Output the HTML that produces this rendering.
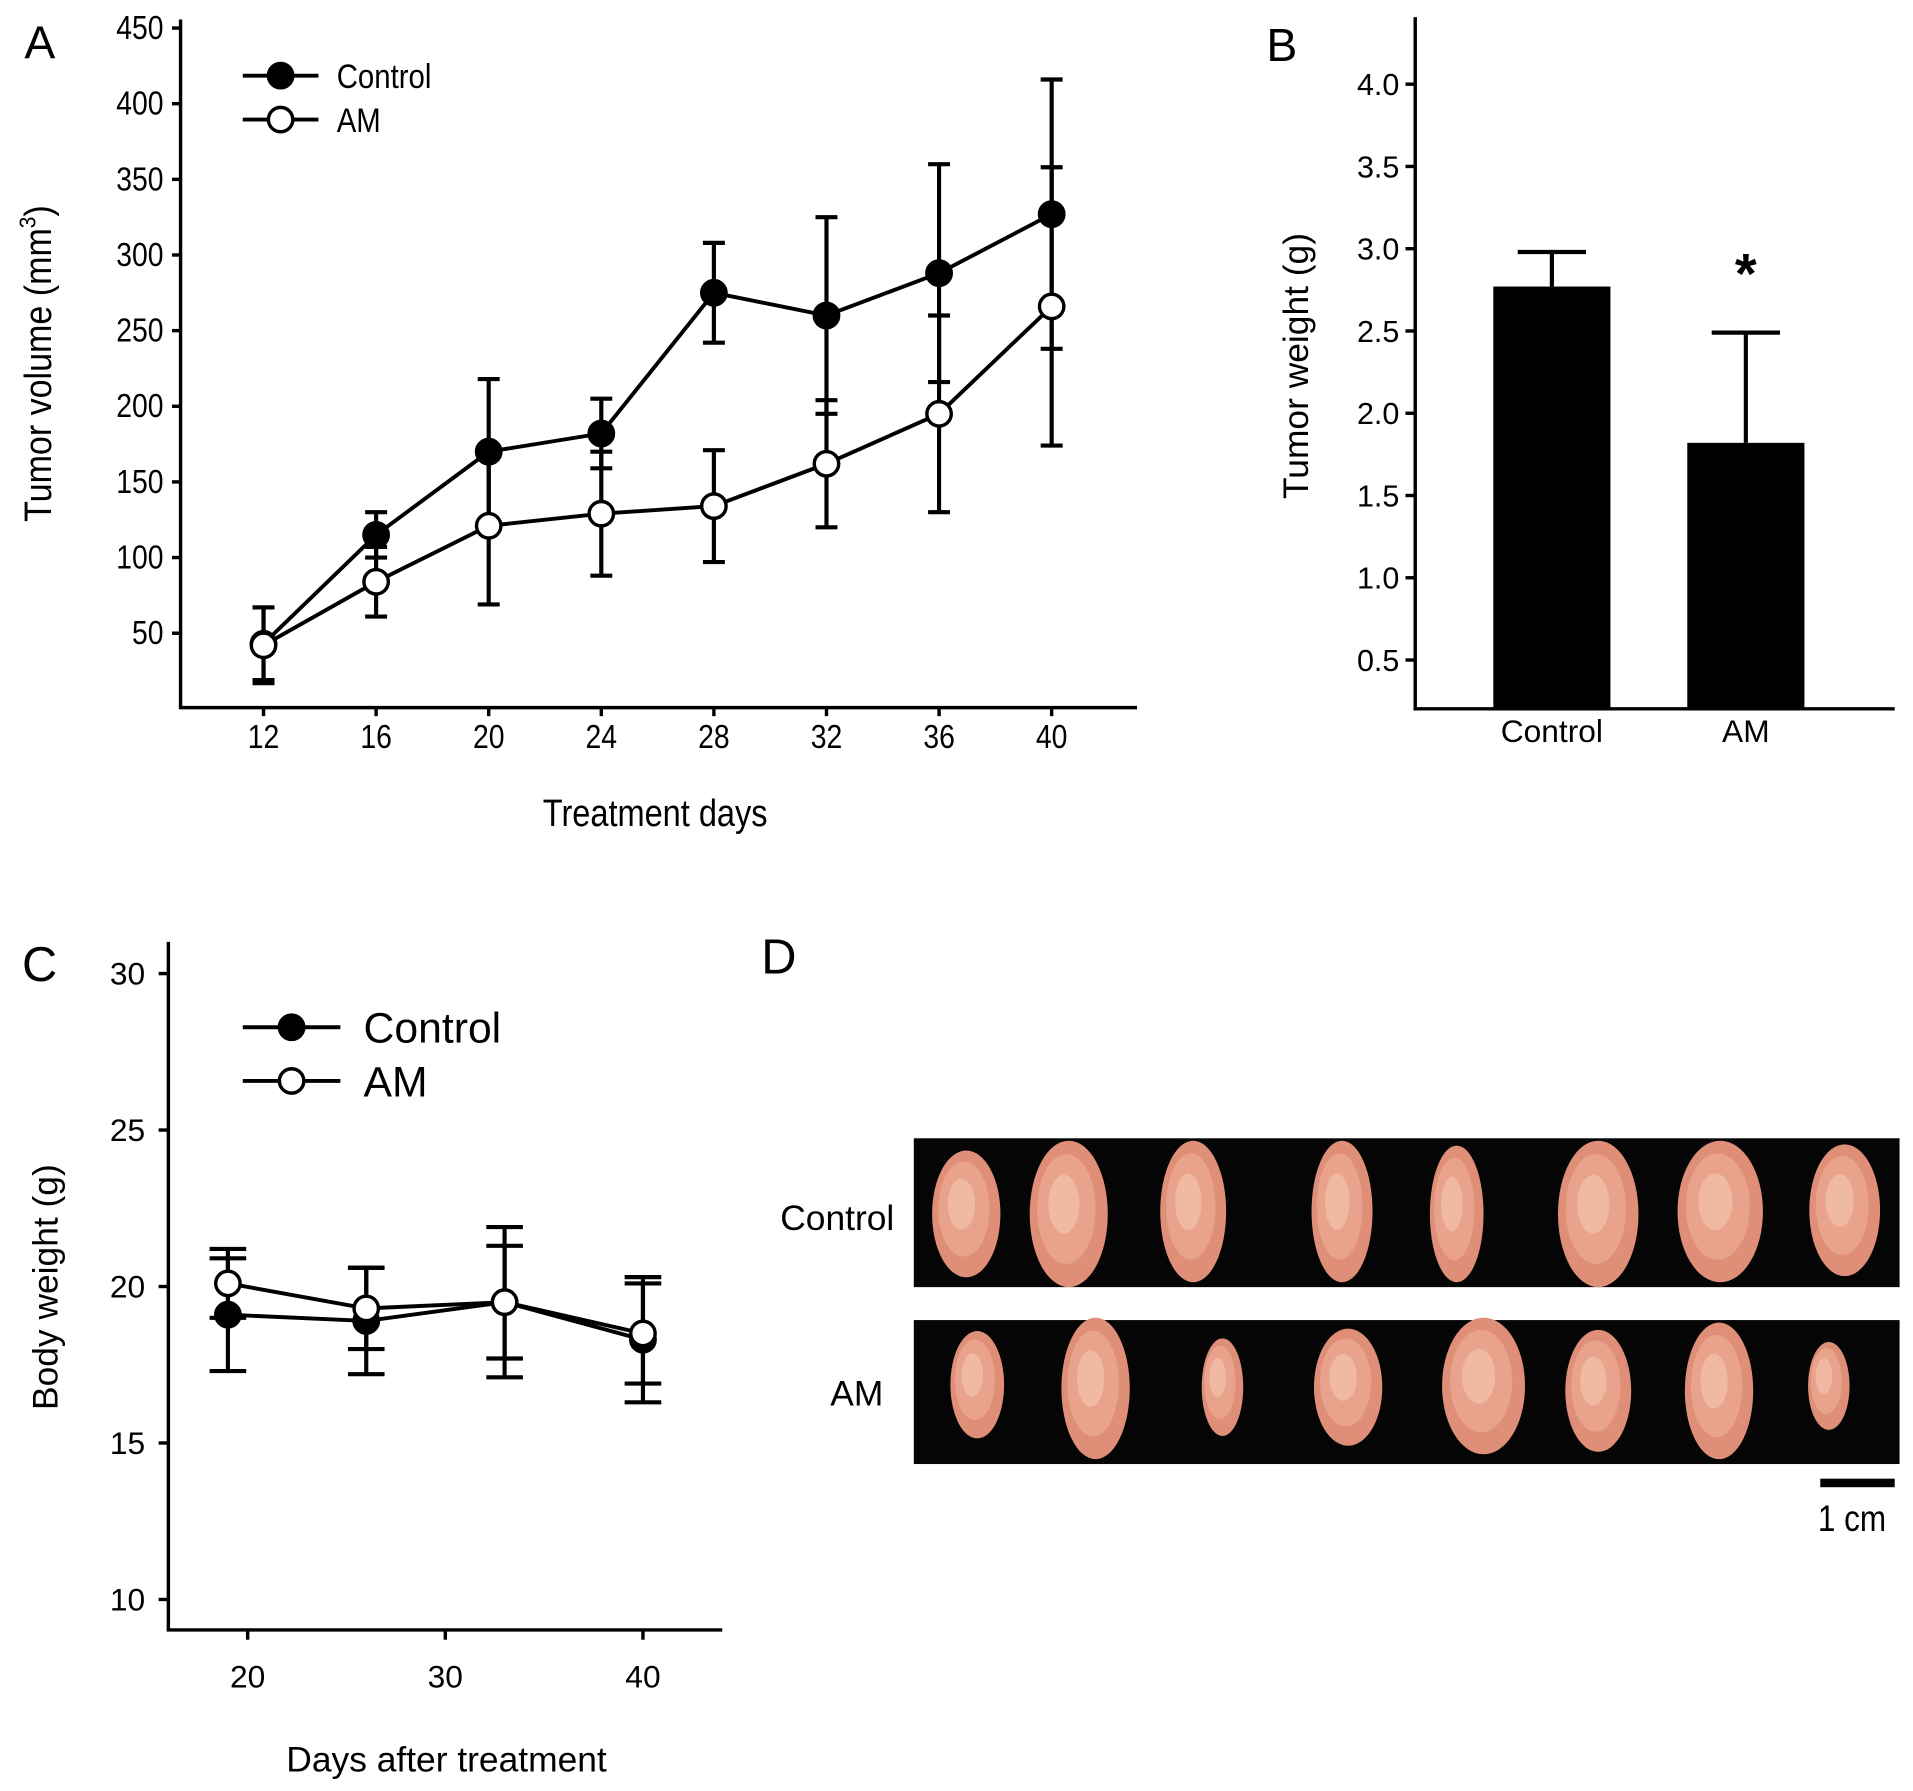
<!DOCTYPE html>
<html><head><meta charset="utf-8">
<style>
html,body{margin:0;padding:0;background:#fff;}
svg{display:block;}
text{font-family:"Liberation Sans",sans-serif;fill:#000;}
</style></head>
<body>
<svg id="fig" width="1913" height="1791" viewBox="0 0 1568 1468" preserveAspectRatio="none">
<rect width="1568" height="1468" fill="#fff"/>
<g id="pA"></g>
<g id="pB"></g>
<g id="pC"></g>
<g id="pD"></g>
</svg>
<script>
// Panel A data
const daysA = [12,16,20,24,28,32,36,40];
const ctrlA = [43,115,170,182,275,260,288,327];
const ctrlAsd = [24,15,48,23,33,65,72,89];
const amA = [42,84,121,129,134,162,195,266];
const amAsd = [25,23,52,41,37,42,65,92];
const ticksAy = [50,100,150,200,250,300,350,400,450];
// Panel B data
const groupsB = ["Control","AM"];
const meansB = [2.77,1.82];
const sdB = [0.21,0.67];
const ticksBy = [0.5,1.0,1.5,2.0,2.5,3.0,3.5,4.0];
// Panel C data
const daysC = [19,26,33,40];
const ctrlC = [19.1,18.9,19.5,18.3];
const ctrlCsd = [1.8,1.7,1.8,2.0];
const amC = [20.1,19.3,19.5,18.5];
const amCsd = [1.1,1.3,2.4,1.6];
const ticksCy = [10,15,20,25,30];
const ticksCx = [20,30,40];

const NS="http://www.w3.org/2000/svg";
function mk(parent,tag,attrs,txt){const e=document.createElementNS(NS,tag);for(const k in attrs)e.setAttribute(k,attrs[k]);if(txt!==undefined)e.textContent=txt;parent.appendChild(e);return e;}
function ntext(parent,x,y,fs,anchor,str){
 const t=mk(parent,'text',{transform:`translate(${x},${y}) scale(0.86,1)`,'font-size':fs,'text-anchor':anchor},str);
 return t;
}

// ---------- Panel A ----------
const A=document.getElementById('pA');
const axA=d=>216+(d-12)*(862-216)/28;
const ayA=v=>519-(v-50)*(519-23)/400;
let t=mk(A,'text',{x:20,y:48,'font-size':38},'A');


let l=mk(A,'path',{d:'M148 16 V580 H932',stroke:'#000','stroke-width':2.8,fill:'none'});


ticksAy.forEach(v=>{const y=ayA(v);mk(A,'line',{x1:141,x2:148,y1:y,y2:y,stroke:'#000','stroke-width':2.8});
 const tx=ntext(A,134,y+9,27,'end',String(v));
 
 });
daysA.forEach(d=>{const x=axA(d);mk(A,'line',{x1:x,x2:x,y1:580,y2:587,stroke:'#000','stroke-width':2.8});
 const tx=ntext(A,x,613,27,'middle',String(d));
 
 });
t=ntext(A,537,677,31,'middle','Treatment days');


t=mk(A,'text',{transform:'translate(42,298) rotate(-90) scale(0.9,1)','font-size':31,'text-anchor':'middle'});
t.innerHTML='Tumor volume (mm<tspan dy="-13" font-size="19">3</tspan><tspan dy="13">)</tspan>';


function series(g,xs,ys,sds,fx,fy,filled,r,cap,name){
 const gg=mk(g,'g',{});
 
 
 xs.forEach((d,i)=>{const x=fx(d),y1=fy(ys[i]+sds[i]),y2=fy(ys[i]-sds[i]);
  mk(gg,'path',{d:`M${x} ${y1}V${y2}M${x-cap} ${y1}h${2*cap}M${x-cap} ${y2}h${2*cap}`,stroke:'#000','stroke-width':3.4,fill:'none'});});
 mk(gg,'polyline',{points:xs.map((d,i)=>fx(d)+','+fy(ys[i])).join(' '),stroke:'#000','stroke-width':3.2,fill:'none'});
 xs.forEach((d,i)=>{const c=mk(gg,'circle',{cx:fx(d),cy:fy(ys[i]),r:r,fill:filled?'#000':'#fff',stroke:'#000','stroke-width':2.8});
  
  });
}
series(A,daysA,ctrlA,ctrlAsd,axA,ayA,true,10,9,'series-control');
series(A,daysA,amA,amAsd,axA,ayA,false,10,9,'series-am');
function legend(g,x,y,dy,fs,r,narrow,len,tx){
 [['Control',true],['AM',false]].forEach((e,i)=>{const gy=y+i*dy;
  const gg=mk(g,'g',{});
  
  
  mk(gg,'line',{x1:x,x2:x+len,y1:gy,y2:gy,stroke:'#000','stroke-width':3.2});
  mk(gg,'circle',{cx:x+len/2,cy:gy,r:r,fill:e[1]?'#000':'#fff',stroke:'#000','stroke-width':2.8});
  if(narrow) ntext(gg,x+tx,gy+fs*0.36,fs,'start',e[0]);
  else mk(gg,'text',{x:x+tx,y:gy+fs*0.36,'font-size':fs},e[0]);});
}
legend(A,199,62,36,28,10,true,62,77);

// ---------- Panel B ----------
const B=document.getElementById('pB');
const ayB=v=>541-(v-0.5)*(541-69)/3.5;
t=mk(B,'text',{x:1038,y:50,'font-size':38},'B');


l=mk(B,'path',{d:'M1160 14 V581 H1553',stroke:'#000','stroke-width':2.8,fill:'none'});


ticksBy.forEach(v=>{const y=ayB(v);mk(B,'line',{x1:1152,x2:1160,y1:y,y2:y,stroke:'#000','stroke-width':2.8});
 const tx=mk(B,'text',{x:1147,y:y+9,'font-size':25,'text-anchor':'end'},v.toFixed(1));
 
 });
t=mk(B,'text',{transform:'translate(1072,300) rotate(-90)','font-size':29,'text-anchor':'middle'},'Tumor weight (g)');


const bcx=[1272,1431];
groupsB.forEach((gname,i)=>{const x=bcx[i],top=ayB(meansB[i]),e=ayB(meansB[i]+sdB[i]);
 mk(B,'path',{d:`M${x} ${top}V${e}M${x-28} ${e}h56`,stroke:'#000','stroke-width':3.4,fill:'none'});
 const r=mk(B,'rect',{x:x-48,y:top,width:96,height:581-top,fill:'#000'});
 
 
 const tx=mk(B,'text',{x:x,y:608,'font-size':26,'text-anchor':'middle'},gname);
 
 });
t=mk(B,'text',{x:1431,y:240,'font-size':46,'text-anchor':'middle','font-weight':'bold'},'*');



// ---------- Panel C ----------
const C=document.getElementById('pC');
const axC=d=>203+(d-20)*(527-203)/20;
const ayC=v=>1311-(v-10)*(1311-798)/20;
t=mk(C,'text',{x:18,y:804,'font-size':40},'C');


l=mk(C,'path',{d:'M138 772 V1336 H592',stroke:'#000','stroke-width':2.8,fill:'none'});


ticksCy.forEach(v=>{const y=ayC(v);mk(C,'line',{x1:130,x2:138,y1:y,y2:y,stroke:'#000','stroke-width':2.8});
 const tx=mk(C,'text',{x:119,y:y+9,'font-size':26,'text-anchor':'end'},String(v));
 
 });
ticksCx.forEach(d=>{const x=axC(d);mk(C,'line',{x1:x,x2:x,y1:1336,y2:1344,stroke:'#000','stroke-width':2.8});
 const tx=mk(C,'text',{x:x,y:1383,'font-size':26,'text-anchor':'middle'},String(d));
 
 });
t=mk(C,'text',{x:366,y:1452,'font-size':29,'text-anchor':'middle'},'Days after treatment');


t=mk(C,'text',{transform:'translate(47,1055) rotate(-90)','font-size':29,'text-anchor':'middle'},'Body weight (g)');


series(C,daysC,ctrlC,ctrlCsd,axC,ayC,true,10,15,'series-control');
series(C,daysC,amC,amCsd,axC,ayC,false,10,15,'series-am');
legend(C,199,842,44,35,10,false,80,99);

// ---------- Panel D ----------
const D=document.getElementById('pD');
t=mk(D,'text',{x:624,y:798,'font-size':40},'D');


let ph=mk(D,'rect',{x:749,y:933,width:808,height:122,fill:'#050505'});


ph=mk(D,'rect',{x:749,y:1082,width:808,height:118,fill:'#050505'});


const topT=[[792,995,28,52],[876,995,32,60],[978,993,27,58],[1100,993,25,58],[1194,995,22,56],[1310,995,33,60],[1410,993,35,58],[1512,992,29,54]];
const botT=[[801,1135,22,44],[898,1138,28,58],[1002,1137,17,40],[1105,1137,28,48],[1216,1136,34,56],[1310,1140,27,50],[1409,1140,28,56],[1499,1136,17,36]];
topT.concat(botT).forEach(s=>{mk(D,'ellipse',{cx:s[0],cy:s[1],rx:s[2],ry:s[3],fill:'#df8e78'});
 mk(D,'ellipse',{cx:s[0]-2,cy:s[1]-4,rx:s[2]*0.75,ry:s[3]*0.75,fill:'#eaa58e',opacity:0.9});
 mk(D,'ellipse',{cx:s[0]-4,cy:s[1]-8,rx:s[2]*0.4,ry:s[3]*0.4,fill:'#f2c2ae',opacity:0.7});});
t=mk(D,'text',{x:733,y:1008,'font-size':29,'text-anchor':'end'},'Control');


t=mk(D,'text',{x:724,y:1152,'font-size':29,'text-anchor':'end'},'AM');


l=mk(D,'rect',{x:1492,y:1212,width:61,height:7,fill:'#000'});


t=ntext(D,1518,1255,30,'middle','1 cm');


</script>
</body></html>
